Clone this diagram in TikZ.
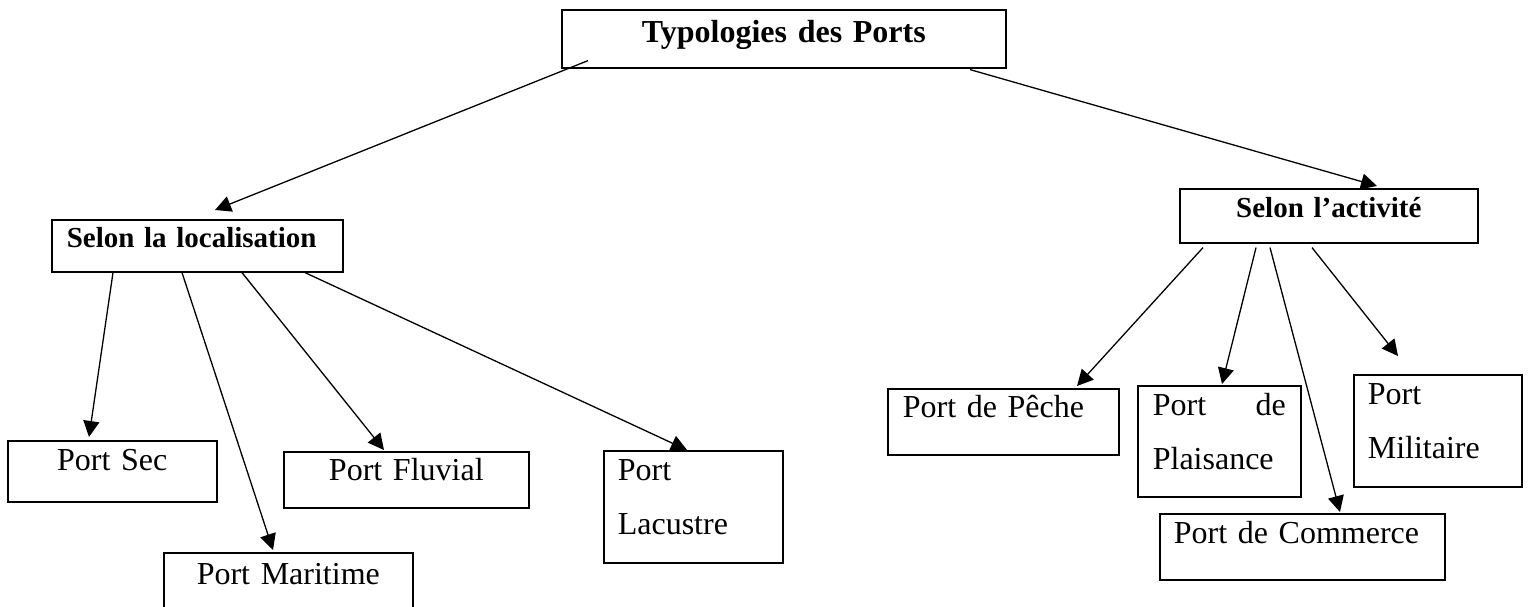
\documentclass[tikz,border=0pt]{standalone}
\usepackage{fontspec}
\setmainfont{Liberation Serif}
\usetikzlibrary{arrows.meta,calc}

\begin{document}
\begin{tikzpicture}[x=1pt,y=-1pt,
  boite/.style={draw,line width=1.6pt,rectangle,anchor=north west,inner ysep=0pt,font=\fontsize{32}{54}\selectfont},
  titre/.style={font=\fontsize{29}{35}\selectfont\bfseries},
  fleche/.style={line width=1.3pt,-{Triangle[length=16pt,width=16pt]}}]
\useasboundingbox (0,0) rectangle (1530,607);
\node[boite,font=\fontsize{32}{38}\selectfont\bfseries,inner xsep=0pt,text width=444pt,align=center,text height=33pt,text depth=25pt] (typo) at (561,9) {Typologies des Ports};
\node[boite,titre,inner xsep=15pt,text width=261pt,align=left,text height=28pt,text depth=24pt] (loc) at (51,219) {Selon la localisation};
\node[boite,titre,inner xsep=0pt,text width=298pt,align=center,text height=29pt,text depth=25pt] (act) at (1179,188) {Selon l’activité};
% localisation
\node[boite,inner xsep=0pt,text width=209pt,align=center,text height=30pt,text depth=31pt] (sec) at (7,440) {Port Sec};
\node[boite,inner xsep=0pt,text width=249pt,align=center,text height=32pt,text depth=30pt] (mar) at (163,552) {Port Maritime};
\node[boite,inner xsep=0pt,text width=245pt,align=center,text height=29pt,text depth=27pt] (flu) at (283,451) {Port Fluvial};
\node[boite,inner xsep=14pt,text width=151pt,align=left,text height=30pt,text depth=82pt] (lac) at (603,450) {Port\\Lacustre};
% activite
\node[boite,inner xsep=15pt,text width=201pt,align=left,text height=29pt,text depth=37pt] (pec) at (887,388) {Port de Pêche};
\node[boite,inner xsep=15pt,text width=133pt,align=left,text height=30pt,text depth=81pt] (pla) at (1137,385) {Port\hfill de\\Plaisance};
\node[boite,inner xsep=14pt,text width=140pt,align=left,text height=30pt,text depth=82pt] (mil) at (1353,374) {Port\\Militaire};
\node[boite,inner xsep=14pt,text width=257pt,align=left,text height=30pt,text depth=36pt] (com) at (1159,513) {Port de Commerce};

\draw[fleche] ($(typo.south west)+(27,-8)$) -- ($(loc.north west)+(164,-9)$);
\draw[fleche] ($(typo.south west)+(409,1)$) -- ($(act.north west)+(198,-2)$);

\draw[fleche] ($(loc.south west)+(62,0)$) -- ($(sec.north west)+(82,-3)$);
\draw[fleche] ($(loc.south west)+(131,0)$) -- ($(mar.north west)+(110,-2)$);
\draw[fleche] ($(loc.south west)+(191,0)$) -- ($(flu.north west)+(101,-1)$);
\draw[fleche] ($(loc.south west)+(254,0)$) -- ($(lac.north west)+(84,0)$);

\draw[fleche] ($(act.south west)+(24,4)$) -- ($(pec.north west)+(190,-2)$);
\draw[fleche] ($(act.south west)+(77,4)$) -- ($(pla.north west)+(85,-1)$);
\draw[fleche] ($(act.south west)+(91,4)$) -- ($(com.north west)+(181,-1)$);
\draw[fleche] ($(act.south west)+(133,4)$) -- ($(mil.north west)+(45,-18)$);
\end{tikzpicture}
\end{document}
